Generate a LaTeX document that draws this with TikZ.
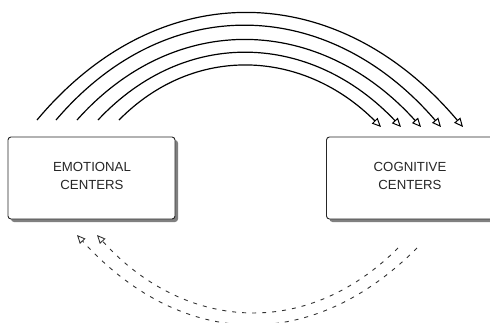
\documentclass[tikz,border=0pt]{standalone}
\usepackage{fontspec}
\setmainfont{Liberation Sans}
\usetikzlibrary{arrows.meta,shadows}
\begin{document}
\begin{tikzpicture}[x=1pt,y=-1pt,
  centerbox/.style={draw=black!85, line width=0.9pt, rounded corners=3pt, fill=white,
    minimum width=167pt, minimum height=82pt, inner sep=0pt,
    drop shadow={shadow xshift=3pt, shadow yshift=-3pt, fill=black!50, opacity=1}},
  boxtext/.style={align=center, inner sep=0pt, font=\fontsize{13.2}{18}\selectfont, text=black!85},
  solidarc/.style={line width=1.2pt, -{Triangle[open,length=9pt,width=8pt,line width=1pt]}},
  dasharc/.style={line width=0.9pt, black!80, dash pattern=on 4pt off 6pt,
    -{Triangle[open,length=8.5pt,width=7.5pt,line width=0.9pt]}}
]
\useasboundingbox (0,0) rectangle (490,322);
\clip (0,0) rectangle (490,322);

\node[centerbox] (emo) at (91.5,178) {};
\node[boxtext] (emotext) at (92,175.5) {EMOTIONAL\\CENTERS};
\node[centerbox] (cog) at (410,178) {};
\node[boxtext] (cogtext) at (410,175.5) {COGNITIVE\\CENTERS};

% top arcs
\coordinate (s1) at (37,120);  \coordinate (e1) at (463,127);
\coordinate (s2) at (56,120);  \coordinate (e2) at (441,127);
\coordinate (s3) at (77,120);  \coordinate (e3) at (421,127);
\coordinate (s4) at (98,120);  \coordinate (e4) at (401,127);
\coordinate (s5) at (119,120); \coordinate (e5) at (381,127);

\draw[solidarc] (s1) .. controls (160,-27) and (339,-20) .. (e1);
\draw[solidarc] (s2) .. controls (167,-10) and (329,-3) .. (e2);
\draw[solidarc] (s3) .. controls (176,9) and (321,16) .. (e3);
\draw[solidarc] (s4) .. controls (186,26) and (312,33) .. (e4);
\draw[solidarc] (s5) .. controls (195,43) and (304,50) .. (e5);

% bottom dashed arcs
\coordinate (b1) at (398,248); \coordinate (t1) at (97,235);
\coordinate (b2) at (417,248); \coordinate (t2) at (77,235);
\draw[dasharc] (b1) .. controls (304,342) and (182,329) .. (t1);
\draw[dasharc] (b2) .. controls (307,358) and (177,345) .. (t2);
\end{tikzpicture}
\end{document}
